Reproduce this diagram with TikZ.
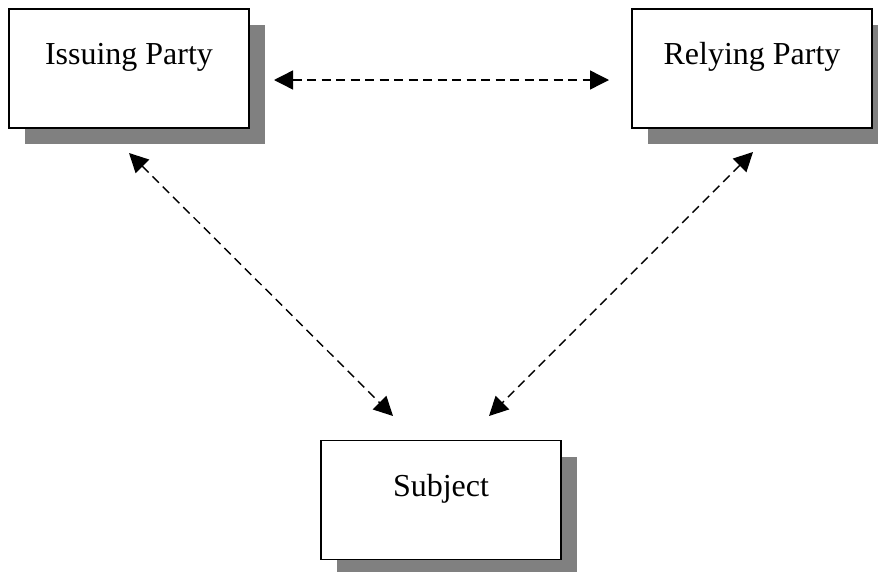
\documentclass[tikz,border=0pt]{standalone}
\usepackage{fontspec}
\setmainfont{Liberation Serif}
\usetikzlibrary{arrows.meta,shadows}
\begin{document}
\begin{tikzpicture}[x=1pt,y=-1pt,
  party/.style={draw=black, line width=1.3pt, fill=white,
    minimum width=240pt, minimum height=119pt, inner sep=0pt,
    drop shadow={shadow xshift=16pt, shadow yshift=-16pt, fill=black!50, opacity=1}},
  caption/.style={anchor=base, inner sep=0pt, font=\fontsize{32}{38}\selectfont},
  link/.style={dashed, dash pattern=on 9pt off 5.5pt, line width=1.4pt,
    {Triangle[length=19pt,width=19pt]}-{Triangle[length=19pt,width=19pt]}}
]
\useasboundingbox (0,0) rectangle (878,571);

% the three parties
\node[party] (ip) at (129,68.5) {};
\node[party] (rp) at (752,68.5) {};
\node[party] (sb) at (441,500) {};

\node[caption] (ipt) at ([yshift=-56pt]ip.north) {Issuing Party};
\node[caption] (rpt) at ([yshift=-56pt]rp.north) {Relying Party};
\node[caption] (sbt) at ([yshift=-57pt]sb.north) {Subject};

% end points of the trust relations
\coordinate (ipE) at (274,80);
\coordinate (rpW) at (609,80);
\coordinate (ipS) at (129,153);
\coordinate (sbL) at (393,416);
\coordinate (rpS) at (753,152);
\coordinate (sbR) at (489,416);

\draw[link] (ipE) -- (rpW);
\draw[link] (ipS) -- (sbL);
\draw[link] (rpS) -- (sbR);
\end{tikzpicture}
\end{document}
